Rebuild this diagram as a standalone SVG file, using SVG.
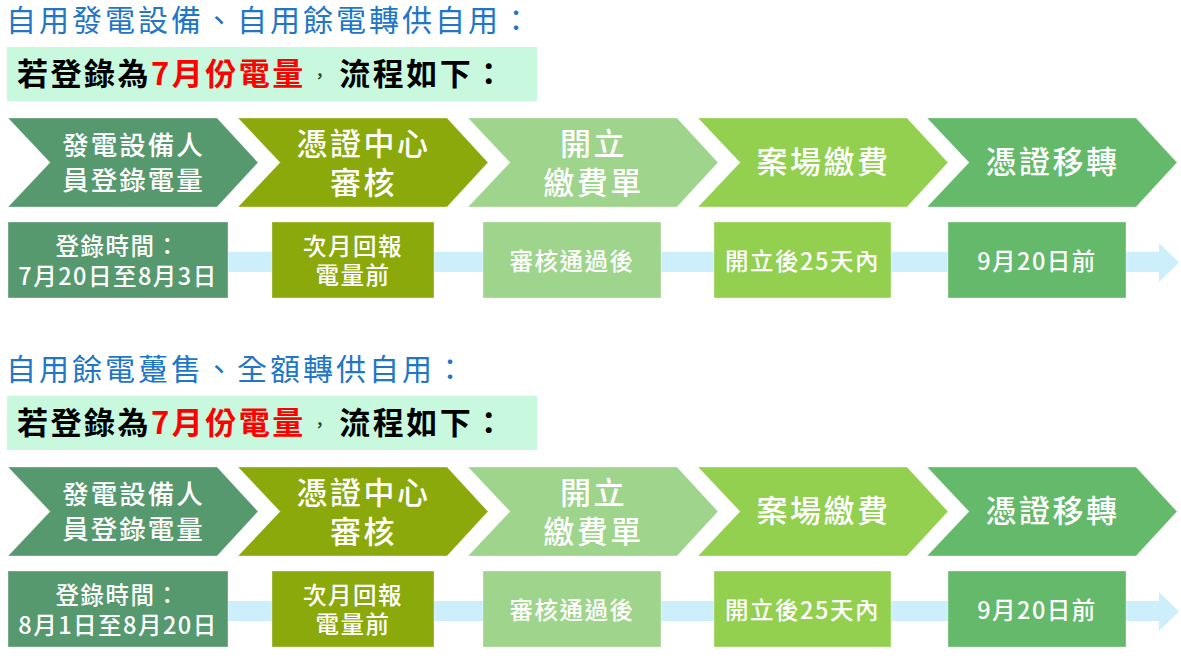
<svg xmlns="http://www.w3.org/2000/svg" width="1181" height="659" viewBox="0 0 1181 659">
<style>
text{font-family:"Noto Sans CJK TC","Noto Sans CJK JP",sans-serif;}
.hd{font-size:30px;fill:#2176c7;letter-spacing:3px;}
.sub{font-size:31px;font-weight:700;fill:#000;letter-spacing:2.5px;}
.red{fill:#ff0000;}
.cm{font-size:16px;fill:#1f4a2c;font-weight:700;}
.subbg{fill:#c8f8de;}
.cv{font-size:31px;font-weight:500;fill:#fff;letter-spacing:2.5px;text-anchor:middle;}
.cv1{font-size:26.5px;font-weight:500;fill:#fff;letter-spacing:2px;text-anchor:middle;}
.bx{font-size:23.5px;font-weight:500;fill:#fff;letter-spacing:1.5px;text-anchor:middle;}
.c1{fill:#57996f;}
.c2{fill:#8ba90a;}
.c3{fill:#9fd48c;}
.c4{fill:#93d050;}
.c5{fill:#64b96a;}
.band{fill:#cdeefb;}
.sh{stroke:#ffffff;stroke-opacity:0.35;stroke-width:1;}
</style>
<defs>
<polygon id="chev" points="0,0 209,0 250,44.5 209,89 0,89 42,44.5"/>
</defs>

<g id="section1">
<g id="heading1"><text class="hd" x="6" y="31">自用發電設備、自用餘電轉供自用：</text></g>
<g id="subtitle1"><rect class="subbg" x="7" y="47" width="530" height="54"/><text class="sub" x="17" y="85">若登錄為<tspan class="red">7月份電量</tspan><tspan class="cm" dx="6" dy="-3">，</tspan><tspan dx="9" dy="3">流程如下：</tspan></text></g>

<g id="connectors1"><path class="band" d="M8,252 H1159 V243 L1179,262.5 L1159,282 V272 H8 Z"/></g>

<g id="step1a"><use href="#chev" x="8" y="118" class="c1 sh"/><text class="cv1" x="133.5" y="155">發電設備人<tspan x="133.5" dy="35">員登錄電量</tspan></text></g>
<g id="step1b"><use href="#chev" x="238" y="118" class="c2 sh"/><text class="cv" x="363.5" y="155">憑證中心<tspan x="363.5" dy="39">審核</tspan></text></g>
<g id="step1c"><use href="#chev" x="468" y="118" class="c3 sh"/><text class="cv" x="593.5" y="155">開立<tspan x="593.5" dy="39">繳費單</tspan></text></g>
<g id="step1d"><use href="#chev" x="698" y="118" class="c4 sh"/><text class="cv" x="823.5" y="173">案場繳費</text></g>
<g id="step1e"><use href="#chev" x="927" y="118" class="c5 sh"/><text class="cv" x="1052.5" y="173">憑證移轉</text></g>

<g id="time1a"><rect class="c1 sh" x="8" y="222" width="220" height="76"/><text class="bx" x="118" y="255">登錄時間：<tspan x="118" dy="30">7月20日至8月3日</tspan></text></g>
<g id="time1b"><rect class="c2 sh" x="272" y="222" width="162" height="76"/><text class="bx" x="353" y="255">次月回報<tspan x="353" dy="29">電量前</tspan></text></g>
<g id="time1c"><rect class="c3 sh" x="483" y="222" width="178" height="76"/><text class="bx" x="572" y="270">審核通過後</text></g>
<g id="time1d"><rect class="c4 sh" x="714" y="222" width="177" height="76"/><text class="bx" x="802.5" y="270">開立後25天內</text></g>
<g id="time1e"><rect class="c5 sh" x="948" y="222" width="178" height="76"/><text class="bx" x="1037" y="270">9月20日前</text></g>
</g>

<g id="section2" transform="translate(0,349)">
<g id="heading2"><text class="hd" x="6" y="31">自用餘電躉售、全額轉供自用：</text></g>
<g id="subtitle2"><rect class="subbg" x="7" y="47" width="530" height="54"/><text class="sub" x="17" y="85">若登錄為<tspan class="red">7月份電量</tspan><tspan class="cm" dx="6" dy="-3">，</tspan><tspan dx="9" dy="3">流程如下：</tspan></text></g>

<g id="connectors2"><path class="band" d="M8,252 H1159 V243 L1179,262.5 L1159,282 V272 H8 Z"/></g>

<g id="step2a"><use href="#chev" x="8" y="118" class="c1 sh"/><text class="cv1" x="133.5" y="155">發電設備人<tspan x="133.5" dy="35">員登錄電量</tspan></text></g>
<g id="step2b"><use href="#chev" x="238" y="118" class="c2 sh"/><text class="cv" x="363.5" y="155">憑證中心<tspan x="363.5" dy="39">審核</tspan></text></g>
<g id="step2c"><use href="#chev" x="468" y="118" class="c3 sh"/><text class="cv" x="593.5" y="155">開立<tspan x="593.5" dy="39">繳費單</tspan></text></g>
<g id="step2d"><use href="#chev" x="698" y="118" class="c4 sh"/><text class="cv" x="823.5" y="173">案場繳費</text></g>
<g id="step2e"><use href="#chev" x="927" y="118" class="c5 sh"/><text class="cv" x="1052.5" y="173">憑證移轉</text></g>

<g id="time2a"><rect class="c1 sh" x="8" y="222" width="220" height="76"/><text class="bx" x="118" y="255">登錄時間：<tspan x="118" dy="30">8月1日至8月20日</tspan></text></g>
<g id="time2b"><rect class="c2 sh" x="272" y="222" width="162" height="76"/><text class="bx" x="353" y="255">次月回報<tspan x="353" dy="29">電量前</tspan></text></g>
<g id="time2c"><rect class="c3 sh" x="483" y="222" width="178" height="76"/><text class="bx" x="572" y="270">審核通過後</text></g>
<g id="time2d"><rect class="c4 sh" x="714" y="222" width="177" height="76"/><text class="bx" x="802.5" y="270">開立後25天內</text></g>
<g id="time2e"><rect class="c5 sh" x="948" y="222" width="178" height="76"/><text class="bx" x="1037" y="270">9月20日前</text></g>
</g>
</svg>
